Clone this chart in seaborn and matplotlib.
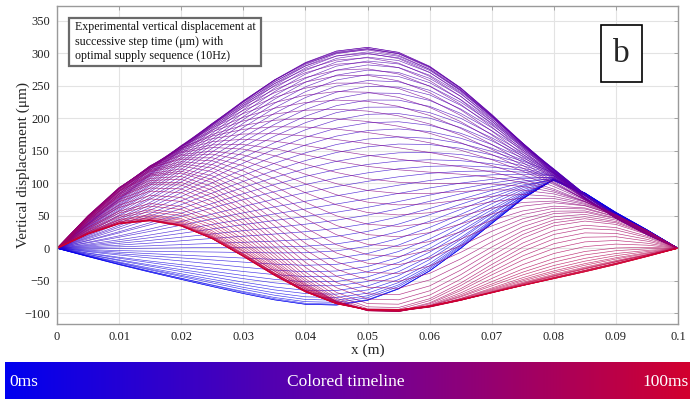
import numpy as np
import pandas as pd
import matplotlib
matplotlib.use("Agg")
import matplotlib.pyplot as plt
import seaborn as sns
from matplotlib.colors import LinearSegmentedColormap
from matplotlib.patches import Rectangle

# ---------------- data ----------------
# measurement positions along the beam (m)
x_nodes = [0.000, 0.005, 0.010, 0.015, 0.020, 0.025, 0.030, 0.035, 0.040, 0.045, 0.050,
           0.055, 0.060, 0.065, 0.070, 0.075, 0.080, 0.085, 0.090, 0.095, 0.100]

# deflection shape components sampled at x_nodes
shape_1 = [0, .156, .309, .454, .588, .707, .809, .891, .951, .988, 1,
           .988, .951, .891, .809, .707, .588, .454, .309, .156, 0]
shape_2 = [0, .309, .588, .809, .951, 1, .951, .809, .588, .309, 0,
           -.309, -.588, -.809, -.951, -1, -.951, -.809, -.588, -.309, 0]
shape_3 = [0, .454, .809, .988, .951, .707, .309, -.156, -.588, -.891, -1,
           -.891, -.588, -.156, .309, .707, .951, .988, .809, .454, 0]
shape_4 = [0, .588, .951, .951, .588, 0, -.588, -.951, -.951, -.588, 0,
           .588, .951, .951, .588, 0, -.588, -.951, -.951, -.588, 0]
shape_5 = [0, 0, 0, 0, 0, 0, 0, 0, 0, 0, 0,
           0, 0, 0, .1, .45, 1, -.15, -.85, -.6, 0]

# step times (ms)
time_ms = list(range(0, 101))

# amplitude of each shape component at every step time (um)
amp_1 = [-37, -37, -36, -34, -31, -28, -24, -19, -14, -8, -2, 5, 13, 21, 30, 39, 48, 58, 68, 78,
         88, 99, 110, 121, 131, 142, 153, 163, 173, 183, 193, 202, 211, 220, 228, 236, 243, 249, 255, 260,
         265, 269, 272, 275, 276, 278, 278, 277, 276, 273, 269, 264, 258, 251, 243, 234, 224, 214, 203, 192,
         180, 167, 155, 142, 129, 116, 104, 91, 79, 67, 55, 44, 33, 23, 13, 4, -4, -12, -19, -25,
         -31, -36, -41, -45, -48, -51, -54, -56, -57, -59, -60, -60, -61, -61, -62, -62, -62, -62, -62, -62,
         -62]
amp_2 = [-63, -63, -62, -62, -61, -60, -59, -58, -56, -55, -53, -51, -49, -48, -46, -44, -42, -40, -38, -36,
         -34, -32, -30, -27, -25, -23, -21, -19, -16, -14, -12, -10, -8, -7, -5, -3, -1, 1, 3, 4,
         6, 8, 10, 11, 13, 14, 15, 16, 17, 18, 19, 20, 21, 22, 23, 24, 25, 26, 26, 27,
         28, 29, 29, 30, 30, 31, 31, 32, 32, 33, 33, 33, 33, 34, 34, 34, 34, 35, 35, 35,
         35, 35, 35, 36, 36, 36, 36, 36, 36, 36, 36, 36, 36, 36, 36, 36, 36, 36, 36, 36,
         36]
amp_3 = [43, 43, 43, 42, 42, 41, 40, 39, 37, 36, 34, 33, 31, 29, 27, 25, 22, 20, 17, 15,
         12, 10, 7, 5, 2, 0, -3, -5, -8, -10, -13, -15, -17, -19, -21, -22, -24, -25, -27, -28,
         -29, -30, -30, -31, -31, -31, -31, -30, -29, -27, -24, -22, -18, -15, -11, -6, -2, 3, 8, 14,
         19, 24, 29, 35, 40, 45, 49, 54, 58, 61, 65, 67, 70, 72, 73, 74, 74, 73, 71, 68,
         64, 60, 55, 51, 47, 44, 41, 39, 37, 36, 35, 34, 34, 33, 33, 33, 32, 32, 32, 32,
         32]
amp_4 = [-12, -12, -12, -12, -12, -12, -12, -11, -11, -10, -10, -9, -9, -8, -8, -7, -6, -6, -5, -5,
         -4, -3, -3, -2, -2, -1, 0, 0, 1, 1, 2, 2, 3, 3, 4, 4, 4, 4, 5, 5,
         5, 5, 5, 6, 6, 6, 6, 6, 6, 6, 6, 6, 6, 5, 5, 5, 5, 5, 4, 4,
         4, 4, 4, 3, 3, 3, 3, 3, 2, 2, 2, 2, 2, 2, 2, 2, 2, 3, 3, 4,
         4, 5, 5, 6, 6, 7, 7, 8, 8, 9, 9, 9, 9, 10, 10, 10, 10, 10, 11, 11,
         11]
amp_5 = [20, 20, 20, 20, 19, 19, 19, 18, 18, 17, 17, 16, 16, 15, 15, 14, 13, 13, 12, 12,
         11, 11, 10, 9, 9, 8, 8, 7, 7, 6, 6, 5, 5, 4, 4, 3, 3, 3, 2, 2,
         2, 1, 1, 1, 1, 0, 0, 0, 0, 0, 0, 0, 0, 0, 0, 0, 0, 0, 0, 0,
         0, 0, 0, 0, 0, 0, 0, 0, 0, 0, 0, 0, 0, 0, 0, 0, 0, 0, 0, 0,
         0, 0, 0, 0, 0, 0, 0, 0, 0, 0, 0, 0, 0, 0, 0, 0, 0, 0, 0, 0,
         0]

# colour timeline stops (0 ms -> 100 ms)
timeline_colors = ["#0000f0", "#6a00a0", "#d2002f"]

x_ticks = [0, 0.01, 0.02, 0.03, 0.04, 0.05, 0.06, 0.07, 0.08, 0.09, 0.1]
x_tick_labels = ["0", "0.01", "0.02", "0.03", "0.04", "0.05", "0.06", "0.07", "0.08", "0.09", "0.1"]
y_ticks = [-100, -50, 0, 50, 100, 150, 200, 250, 300, 350]

# ---------------- build long table ----------------
A = np.column_stack([amp_1, amp_2, amp_3, amp_4, amp_5])
S = np.vstack([shape_1, shape_2, shape_3, shape_4, shape_5])
W = A @ S
rows = []
for i, t in enumerate(time_ms):
    for j, x in enumerate(x_nodes):
        rows.append((t, x, W[i, j]))
df = pd.DataFrame(rows, columns=["t", "x", "w"])

# ---------------- style ----------------
sns.set_theme(style="white")
plt.rcParams["font.family"] = ["Liberation Serif", "DejaVu Serif"]

cmap = LinearSegmentedColormap.from_list("timeline", timeline_colors)

fig = plt.figure(figsize=(7.0, 3.99), dpi=100)
ax = fig.add_axes([57 / 700, 1 - 324 / 399, 621 / 700, 318 / 399])

sns.lineplot(data=df, x="x", y="w", hue="t", palette=cmap, hue_norm=(0, 100),
             units="t", estimator=None, sort=False, legend=False,
             lw=0.45, alpha=0.8, ax=ax)

ax.set_xlim(0, 0.1)
ax.set_ylim(-116.4, 372.6)
ax.set_xticks(x_ticks)
ax.set_xticklabels(x_tick_labels)
ax.set_yticks(y_ticks)
ax.grid(True, color="#e3e3e3", lw=0.8)
ax.set_axisbelow(True)
ax.tick_params(direction="in", length=3, width=0.6, color="#999999",
               top=True, right=True, labelsize=9, labelcolor="#222222", pad=5)
for s in ax.spines.values():
    s.set_color("#9a9a9a")
    s.set_linewidth(1.0)
ax.set_xlabel("x (m)", fontsize=11, labelpad=0.5)
ax.set_ylabel("Vertical displacement (μm)", fontsize=11, labelpad=-4)

# annotation box (top-left)
fig.patches.append(Rectangle((69 / 700, 1 - 66 / 399), 192 / 700, 48 / 399,
                             transform=fig.transFigure, fill=True, facecolor="white",
                             edgecolor="#6a6a6a", lw=1.6, zorder=5))
fig.text(75 / 700, 1 - 21 / 399,
         "Experimental vertical displacement at\nsuccessive step time (μm) with\noptimal supply sequence (10Hz)",
         fontsize=8.6, va="top", ha="left", linespacing=1.3, zorder=6, color="#111111")

# panel label "b"
fig.patches.append(Rectangle((601 / 700, 1 - 82 / 399), 41 / 700, 57 / 399,
                             transform=fig.transFigure, fill=True, facecolor="white",
                             edgecolor="black", lw=1.2, zorder=5))
fig.text(621.5 / 700, 1 - 54 / 399, "b", fontsize=24, ha="center", va="center", zorder=6)

# colored timeline band
axc = fig.add_axes([5 / 700, 0, 685 / 700, 37 / 399])
axc.imshow(np.linspace(0, 1, 512)[None, :], aspect="auto", cmap=cmap, extent=[0, 1, 0, 1])
axc.set_axis_off()
axc.text(0.006, 0.45, "0ms", color="white", fontsize=12.5, ha="left", va="center")
axc.text(0.497, 0.45, "Colored timeline", color="white", fontsize=12.5, ha="center", va="center")
axc.text(0.998, 0.45, "100ms", color="white", fontsize=12.5, ha="right", va="center")

fig.savefig("out.png", dpi=100)
